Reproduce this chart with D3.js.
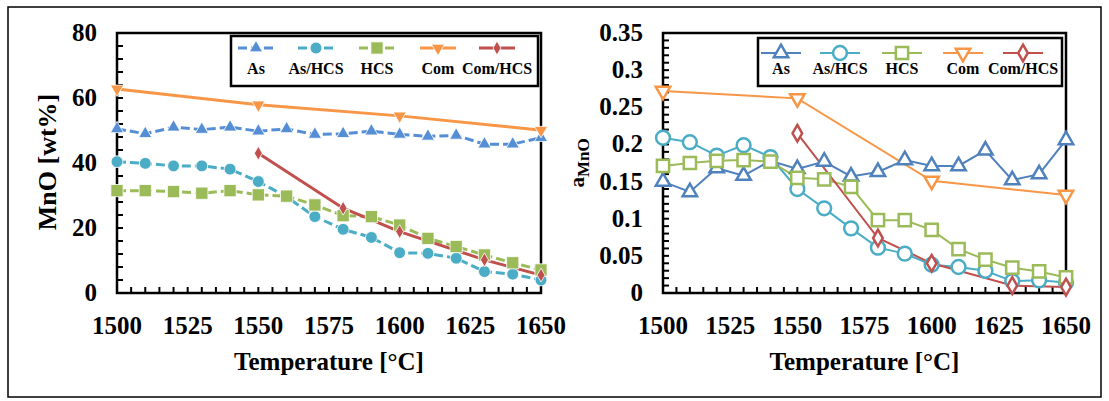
<!DOCTYPE html>
<html lang="en">
<head>
<meta charset="UTF-8">
<title>MnO vs temperature</title>
<script src="https://cdn.jsdelivr.net/npm/d3@7"></script>
<style>
    body { margin: 0; background: #fff; }
    svg text { font-family: "Liberation Serif", "Times New Roman", serif; font-weight: bold; fill: #000; }
    .frame { fill: none; stroke: #000; stroke-width: 2.5; }
    .tick-line { stroke: #000; stroke-width: 2; }
    .legend-box { fill: #fff; stroke: #000; stroke-width: 2.5; }
</style>
</head>
<body>
<svg id="chart" width="1109" height="401"></svg>
<script>
    // temperatures (°C)
    const temps = [1500, 1510, 1520, 1530, 1540, 1550, 1560, 1570, 1580, 1590, 1600, 1610, 1620, 1630, 1640, 1650];
    const comTemps = [1500, 1550, 1600, 1650];
    const comHcsTemps = [1550, 1580, 1600, 1630, 1650];
    const xTicks = [1500, 1525, 1550, 1575, 1600, 1625, 1650];
    const seriesNames = ["As", "As/HCS", "HCS", "Com", "Com/HCS"];

    // left: MnO [wt%]
    const mnoAs = [50.5, 49, 51, 50.3, 51, 49.8, 50.5, 48.8, 49, 49.8, 48.8, 48.2, 48.5, 45.8, 45.8, 47.8];
    const mnoAsHcs = [40.4, 39.9, 39.1, 39.1, 38.1, 34.3, 29.6, 23.5, 19.6, 17.1, 12.4, 12.2, 10.7, 6.6, 5.8, 4.0];
    const mnoHcs = [31.5, 31.5, 31.2, 30.7, 31.5, 30.2, 29.8, 27.1, 23.8, 23.5, 20.9, 16.8, 14.3, 11.7, 9.3, 7.1];
    const mnoCom = [62.8, 57.9, 54.5, 50.1];
    const mnoComHcs = [43.0, 26.1, 18.9, 10.2, 5.5];
    const mnoTicks = [0, 20, 40, 60, 80];

    // right: activity of MnO
    const aAs = [0.15, 0.136, 0.168, 0.158, 0.178, 0.167, 0.177, 0.157, 0.163, 0.179, 0.171, 0.171, 0.192, 0.152, 0.16, 0.206];
    const aAsHcs = [0.209, 0.203, 0.185, 0.199, 0.183, 0.14, 0.114, 0.087, 0.061, 0.053, 0.038, 0.035, 0.03, 0.016, 0.017, 0.014];
    const aHcs = [0.171, 0.175, 0.178, 0.179, 0.177, 0.155, 0.153, 0.143, 0.098, 0.098, 0.085, 0.059, 0.045, 0.034, 0.029, 0.021];
    const aCom = [0.272, 0.262, 0.151, 0.132];
    const aComHcs = [0.215, 0.074, 0.04, 0.01, 0.008];
    const aTicks = [0, 0.05, 0.1, 0.15, 0.2, 0.25, 0.3, 0.35];

    const colors = ["#558ed5", "#4bacc6", "#9bbb59", "#f79646", "#c0504d"];
    const colorsRight = ["#4f81bd", "#4bacc6", "#9bbb59", "#f79646", "#c0504d"];

    const svg = d3.select("#chart");

    svg.append("rect")
        .attr("x", 8).attr("y", 7)
        .attr("width", 1093).attr("height", 390)
        .attr("fill", "none").attr("stroke", "#000").attr("stroke-width", 1.5);

    function symbolFor(i, size) {
        const types = [d3.symbolTriangle, d3.symbolCircle, d3.symbolSquare, d3.symbolTriangle, d3.symbolDiamond];
        return d3.symbol().type(types[i]).size(size[i]);
    }

    function drawPanel(cfg) {
        const g = svg.append("g");
        const x = d3.scaleLinear().domain([1500, 1650]).range([cfg.left, cfg.right]);
        const y = d3.scaleLinear().domain(cfg.yDomain).range([cfg.bottom, cfg.top]);

        // minor ticks (inside)
        d3.range(1500, 1651, 5).forEach(function (t) {
            g.append("line").attr("class", "tick-line")
                .attr("x1", x(t)).attr("x2", x(t))
                .attr("y1", cfg.bottom).attr("y2", cfg.bottom - 6);
        });
        cfg.yMinor.forEach(function (t) {
            g.append("line").attr("class", "tick-line")
                .attr("x1", cfg.left).attr("x2", cfg.left + 6)
                .attr("y1", y(t)).attr("y2", y(t));
        });

        g.append("rect").attr("class", "frame")
            .attr("x", cfg.left).attr("y", cfg.top)
            .attr("width", cfg.right - cfg.left).attr("height", cfg.bottom - cfg.top);

        // tick labels
        g.selectAll(".xl").data(xTicks).enter().append("text")
            .attr("x", d => x(d)).attr("y", cfg.bottom + 41)
            .attr("text-anchor", "middle").style("font-size", "25px")
            .text(d => d);
        g.selectAll(".yl").data(cfg.yTicks).enter().append("text")
            .attr("x", cfg.left - 20).attr("y", d => y(d) + 8)
            .attr("text-anchor", "end").style("font-size", "25px")
            .text(d => cfg.fmt(d));

        g.append("text")
            .attr("x", (cfg.left + cfg.right) / 2).attr("y", cfg.bottom + 77)
            .attr("text-anchor", "middle").style("font-size", "25px")
            .text("Temperature [°C]");

        // series
        cfg.series.forEach(function (s, i) {
            const pts = s.t.map((t, k) => [x(t), y(s.v[k])]);
            g.append("path")
                .attr("d", d3.line()(pts))
                .attr("fill", "none")
                .attr("stroke", cfg.colors[i])
                .attr("stroke-width", cfg.lineWidth)
                .attr("stroke-dasharray", cfg.dashed[i] ? "9,4" : null);
        });
        cfg.series.forEach(function (s, i) {
            const sym = symbolFor(i, cfg.markerSize);
            s.t.forEach(function (t, k) {
                g.append("path")
                    .attr("d", sym())
                    .attr("transform", "translate(" + x(t) + "," + y(s.v[k]) + ")" + (i === 3 ? " rotate(180)" : ""))
                    .attr("fill", cfg.open ? "#fff" : cfg.colors[i])
                    .attr("stroke", cfg.open ? cfg.colors[i] : "#fff")
                    .attr("stroke-width", cfg.open ? 2.5 : 0.8);
            });
        });

        // legend
        const lg = g.append("g");
        lg.append("rect").attr("class", "legend-box")
            .attr("x", cfg.legend.x).attr("y", cfg.legend.y)
            .attr("width", cfg.legend.w).attr("height", cfg.legend.h);
        seriesNames.forEach(function (name, i) {
            const cx = cfg.legend.items[i];
            const my = cfg.legend.y + cfg.legend.markY;
            lg.append("line")
                .attr("x1", cx - cfg.legend.half).attr("x2", cx + cfg.legend.half)
                .attr("y1", my).attr("y2", my)
                .attr("stroke", cfg.colors[i]).attr("stroke-width", cfg.lineWidth)
                .attr("stroke-dasharray", cfg.dashed[i] ? "9,4" : null);
            lg.append("path")
                .attr("d", symbolFor(i, cfg.markerSize)())
                .attr("transform", "translate(" + cx + "," + my + ")" + (i === 3 ? " rotate(180)" : ""))
                .attr("fill", cfg.open ? "#fff" : cfg.colors[i])
                .attr("stroke", cfg.open ? cfg.colors[i] : "#fff")
                .attr("stroke-width", cfg.open ? 2.5 : 0.8);
            lg.append("text")
                .attr("x", cx).attr("y", cfg.legend.y + cfg.legend.textY)
                .attr("text-anchor", "middle").style("font-size", "16px")
                .text(name);
        });
        return g;
    }

    drawPanel({
        left: 117, right: 541, top: 33, bottom: 293,
        yDomain: [0, 80], yTicks: mnoTicks, yMinor: d3.range(0, 81, 4),
        fmt: d => d,
        colors: colors, lineWidth: 3, dashed: [true, true, true, false, false],
        open: false, markerSize: [75, 110, 150, 75, 55],
        series: [
            {t: temps, v: mnoAs}, {t: temps, v: mnoAsHcs}, {t: temps, v: mnoHcs},
            {t: comTemps, v: mnoCom}, {t: comHcsTemps, v: mnoComHcs}
        ],
        legend: {x: 231, y: 36, w: 307, h: 50, half: 18, markY: 12, textY: 38,
                 items: [256, 316, 377, 438, 497]}
    });

    drawPanel({
        left: 663, right: 1066, top: 33, bottom: 293,
        yDomain: [0, 0.35], yTicks: aTicks, yMinor: d3.range(0, 36, 1).map(d => d / 100),
        fmt: d => String(+d.toFixed(2)),
        colors: colorsRight, lineWidth: 2, dashed: [false, false, false, false, false],
        open: true, markerSize: [90, 150, 150, 90, 80],
        series: [
            {t: temps, v: aAs}, {t: temps, v: aAsHcs}, {t: temps, v: aHcs},
            {t: comTemps, v: aCom}, {t: comHcsTemps, v: aComHcs}
        ],
        legend: {x: 758, y: 38, w: 304, h: 48, half: 20, markY: 15, textY: 36,
                 items: [781, 840, 902, 963, 1023]}
    });

    // y axis titles
    svg.append("text")
        .attr("transform", "translate(56,162) rotate(-90)")
        .attr("text-anchor", "middle").style("font-size", "26px")
        .text("MnO [wt%]");
    const aLab = svg.append("text")
        .attr("transform", "translate(584,163) rotate(-90)")
        .attr("text-anchor", "middle").style("font-size", "21px");
    aLab.append("tspan").text("a");
    aLab.append("tspan").attr("dy", 5).style("font-size", "17px").text("MnO");
</script>
</body>
</html>
